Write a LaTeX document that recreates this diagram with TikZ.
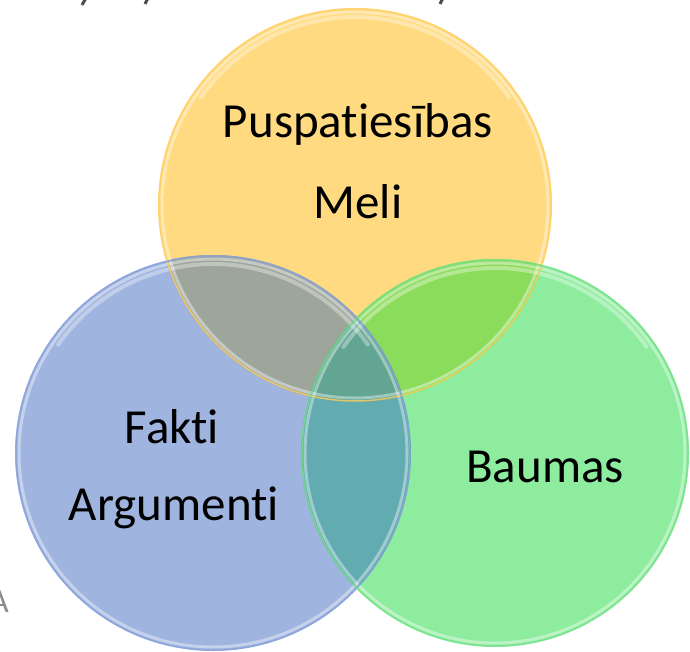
\documentclass[tikz,border=0pt]{standalone}
\usepackage{fontspec}
\setmainfont{Carlito}[Ligatures={NoCommon}]
\definecolor{Ycol}{HTML}{FFDA80}
\definecolor{Bcol}{HTML}{A0B4E0}
\definecolor{Gcol}{HTML}{8EEC9F}
\definecolor{YBcol}{HTML}{9EA59B}
\definecolor{YGcol}{HTML}{8CDC5C}
\definecolor{BGcol}{HTML}{62ABB0}
\definecolor{YBGcol}{HTML}{62A592}
\definecolor{Yrim}{HTML}{FFD068}
\definecolor{Brim}{HTML}{89A3DC}
\definecolor{Grim}{HTML}{78E28C}
\begin{document}
\begin{tikzpicture}[x=1pt,y=-1pt,
  lbl/.style={font=\fontsize{49}{49}\selectfont, text=black, anchor=base, inner sep=0pt},
  band/.style={white, line width=3pt, opacity=0.4},
  gloss/.style={white, line width=4pt, opacity=0.35, line cap=round}]
\useasboundingbox (0,0) rectangle (690,652);
\clip (0,0) rectangle (690,652);
\coordinate (Y) at (355,205);
\coordinate (B) at (213,453);
\coordinate (G) at (495,453);
% base fills
\fill[Ycol] (Y) circle[radius=197];
\fill[Bcol] (B) circle[radius=198];
\fill[Gcol] (G) circle[radius=194];
% overlaps
\begin{scope}\clip (Y) circle[radius=197]; \fill[YBcol] (B) circle[radius=198]; \end{scope}
\begin{scope}\clip (Y) circle[radius=197]; \fill[YGcol] (G) circle[radius=194]; \end{scope}
\begin{scope}\clip (B) circle[radius=198]; \fill[BGcol] (G) circle[radius=194]; \end{scope}
\begin{scope}\clip (Y) circle[radius=197]; \clip (B) circle[radius=198]; \fill[YBGcol] (G) circle[radius=194]; \end{scope}
% rims
\draw[band] (Y) circle[radius=193];
\draw[band] (B) circle[radius=194];
\draw[band] (G) circle[radius=190];
\draw[gloss] (Y) ++(215:188) arc[start angle=215,end angle=325,radius=188];
\draw[gloss] (B) ++(215:189) arc[start angle=215,end angle=325,radius=189];
\draw[gloss] (G) ++(215:185) arc[start angle=215,end angle=325,radius=185];
\draw[Yrim, line width=1.5pt, opacity=0.8] (Y) circle[radius=196];
\draw[Brim, line width=1.5pt, opacity=0.8] (B) circle[radius=197];
\draw[Grim, line width=1.5pt, opacity=0.8] (G) circle[radius=193];
% labels
\node[lbl] (t1) at (358,138) {Puspatiesības};
\node[lbl] (t2) at (358,219) {Meli};
\node[lbl] (t3) at (172,443) {Fakti};
\node[lbl] (t4) at (174,520) {Argumenti};
\node[lbl] (t5) at (545,482) {Baumas};
% partial letters at the edges
\node[font=\fontsize{34}{34}\selectfont, text=black!45, anchor=base west, inner sep=0pt] (cut) at (-11,612) {A};
\draw[black!70, line width=3pt] (86,-2) -- (82,5);
\draw[black!70, line width=3pt] (148,-2) -- (145,4);
\draw[black!70, line width=3pt] (443,-2) -- (440,4);
\end{tikzpicture}
\end{document}
